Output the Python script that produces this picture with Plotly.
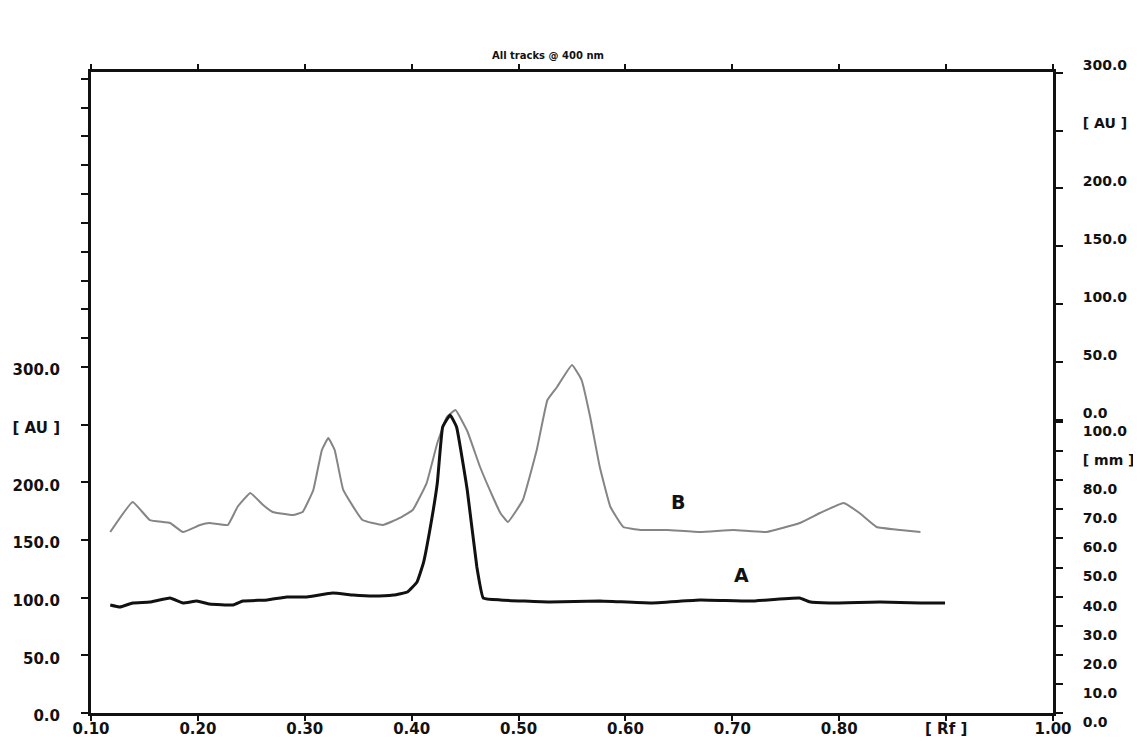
import plotly.graph_objects as go

# ---- data (Rf vs absorbance, AU on left scale) ----
rf_a = [0.118, 0.127, 0.139, 0.155, 0.174, 0.186, 0.199, 0.211, 0.233, 0.242,
        0.265, 0.283, 0.302, 0.326, 0.345, 0.364, 0.383, 0.396, 0.405, 0.411,
        0.417, 0.424, 0.429, 0.436, 0.442, 0.452, 0.461, 0.467, 0.483, 0.529,
        0.576, 0.623, 0.670, 0.717, 0.763, 0.772, 0.791, 0.838, 0.876, 0.899]
au_a = [93.6, 91.9, 95.4, 96.2, 99.7, 95.4, 97.1, 94.5, 93.6, 97.1,
        98.0, 100.6, 100.6, 104.0, 102.3, 101.4, 102.3, 104.9, 113.6, 130.1,
        158.7, 199.4, 248.0, 258.4, 248.0, 193.4, 126.6, 99.7, 98.0, 96.2,
        97.1, 95.4, 98.0, 97.1, 99.7, 96.5, 95.4, 96.2, 95.4, 95.4]

rf_b = [0.118, 0.139, 0.155, 0.174, 0.186, 0.202, 0.211, 0.228, 0.237, 0.249,
        0.261, 0.270, 0.289, 0.298, 0.308, 0.316, 0.322, 0.328, 0.336, 0.354,
        0.373, 0.389, 0.401, 0.414, 0.424, 0.433, 0.441, 0.452, 0.464, 0.476,
        0.483, 0.490, 0.504, 0.517, 0.527, 0.536, 0.550, 0.559, 0.567, 0.576,
        0.586, 0.598, 0.614, 0.639, 0.670, 0.701, 0.732, 0.763, 0.782, 0.804,
        0.819, 0.835, 0.857, 0.876]
au_b = [156.9, 183.0, 167.3, 164.7, 156.9, 163.0, 164.7, 163.0, 178.6, 190.8,
        180.3, 174.3, 171.7, 174.3, 193.4, 228.0, 238.4, 228.0, 193.4, 167.3,
        163.0, 169.1, 176.0, 199.4, 234.1, 256.7, 262.7, 244.5, 213.3, 187.3,
        173.4, 165.6, 184.7, 228.0, 271.4, 282.7, 301.7, 288.7, 256.7, 213.3,
        178.6, 161.3, 158.7, 158.7, 156.9, 158.7, 156.9, 164.7, 173.4, 182.1,
        173.4, 161.3, 158.7, 156.9]

# ---- axis ticks ----
x_ticks = [0.10, 0.20, 0.30, 0.40, 0.50, 0.60, 0.70, 0.80, 0.90, 1.00]
x_labels = ["0.10", "0.20", "0.30", "0.40", "0.50", "0.60", "0.70", "0.80", "[ Rf ]", "1.00"]

left_ticks = [0, 50, 100, 150, 200, 250, 300, 325, 350, 375, 400, 425, 450, 475, 500, 525, 550]
left_labels = ["0.0", "50.0", "100.0", "150.0", "200.0", "[ AU ]", "300.0"] + [""] * 10

right_au_ticks = [0, 50, 100, 150, 200, 250, 300]
right_au_labels = ["0.0", "50.0", "100.0", "150.0", "200.0", "[ AU ]", "300.0"]

right_mm_ticks = [0, 10, 20, 30, 40, 50, 60, 70, 80, 90, 100]
right_mm_labels = ["0.0", "10.0", "20.0", "30.0", "40.0", "50.0", "60.0", "70.0", "80.0", "[ mm ]", "100.0"]

FONT = "DejaVu Sans"
tickfont = dict(family=FONT, size=15, color="#111111", weight="bold")
tickfont_r = dict(family=FONT, size=14, color="#111111", weight="bold")

fig = go.Figure()
fig.add_trace(go.Scatter(x=rf_b, y=au_b, mode="lines", name="B",
                         line=dict(color="#858585", width=2, shape="spline", smoothing=0.3)))
fig.add_trace(go.Scatter(x=rf_a, y=au_a, mode="lines", name="A",
                         line=dict(color="#111111", width=3, shape="spline", smoothing=0.3)))
# invisible traces to bind the right axes
fig.add_trace(go.Scatter(x=[0.5], y=[0], yaxis="y2", mode="markers",
                         marker=dict(opacity=0), showlegend=False, hoverinfo="skip"))
fig.add_trace(go.Scatter(x=[0.5], y=[0], yaxis="y3", mode="markers",
                         marker=dict(opacity=0), showlegend=False, hoverinfo="skip"))

fig.add_annotation(x=0.649, y=183, text="<b>B</b>", showarrow=False,
                   font=dict(family=FONT, size=19, color="#111111"))
fig.add_annotation(x=0.709, y=120, text="<b>A</b>", showarrow=False,
                   font=dict(family=FONT, size=19, color="#111111"))
fig.add_annotation(x=0.475, y=1.0265, xref="paper", yref="paper",
                   text="<b>All tracks @ 400 nm</b>", showarrow=False, yanchor="middle",
                   font=dict(family=FONT, size=10, color="#111111"))

axis_common = dict(showgrid=False, zeroline=False, showline=True, linecolor="#111111",
                   linewidth=3, ticks="outside", tickwidth=2, tickcolor="#111111",
                   automargin=False)

# the page body has an 8px margin, so the figure is sized/offset to compensate
fig.update_layout(
    width=1133, height=738,
    paper_bgcolor="white", plot_bgcolor="white",
    margin=dict(l=83, r=88, t=64, b=33, autoexpand=False),
    showlegend=False,
    xaxis=dict(range=[0.10, 1.00], tickvals=x_ticks, ticktext=x_labels, tickfont=tickfont,
               mirror="allticks", ticklen=5, ticklabelstandoff=-5, **axis_common),
    yaxis=dict(range=[0, 555.8], tickvals=left_ticks, ticktext=left_labels, tickfont=tickfont,
               ticklen=7, ticklabelstandoff=18, ticklabelshift=3, **axis_common),
    yaxis2=dict(range=[-252.6, 300.5], overlaying="y", side="right", anchor="x",
                tickvals=right_au_ticks, ticktext=right_au_labels, tickfont=tickfont_r,
                ticklen=7, ticklabelstandoff=17, ticklabelshift=-7, **axis_common),
    yaxis3=dict(range=[0, 220.3], overlaying="y", side="right", anchor="x",
                tickvals=right_mm_ticks, ticktext=right_mm_labels, tickfont=tickfont_r,
                ticklen=7, ticklabelstandoff=17, ticklabelshift=9, **axis_common),
)

fig.write_html("out.html")
